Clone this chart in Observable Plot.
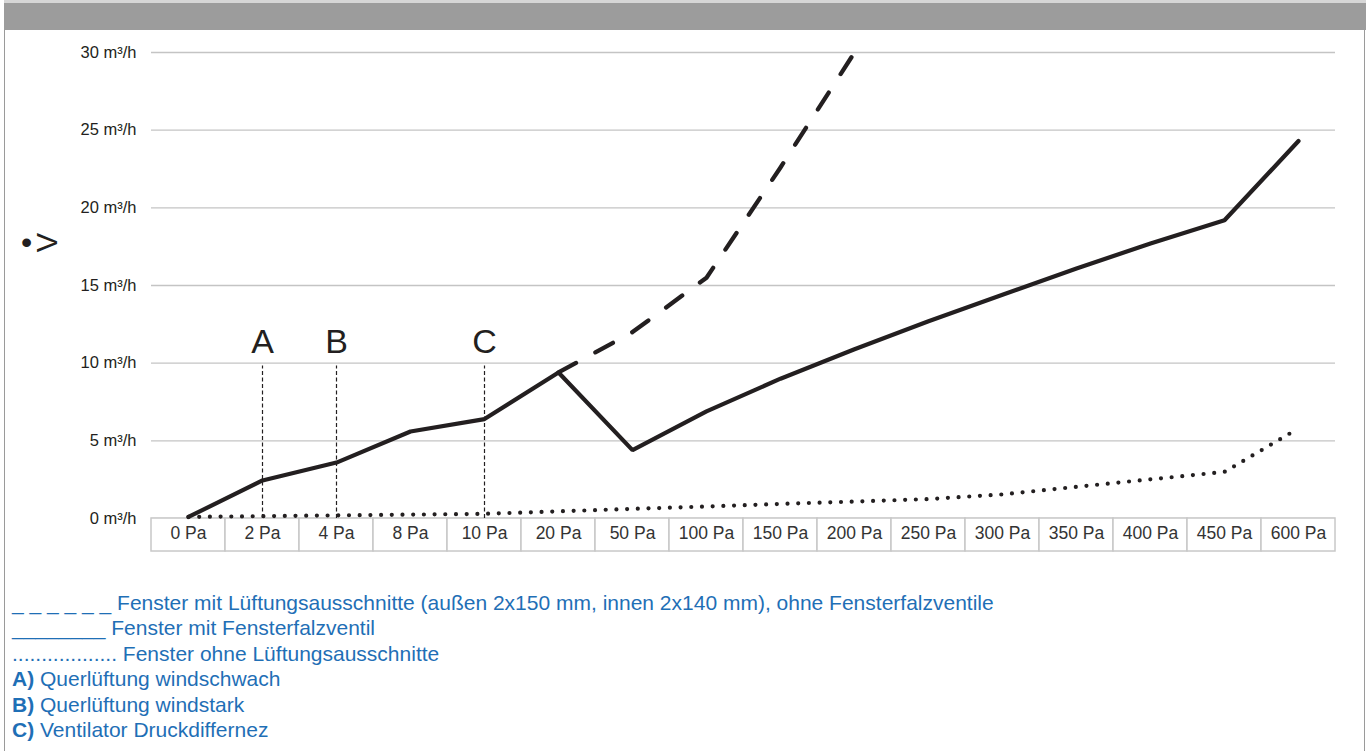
<!DOCTYPE html>
<html>
<head>
<meta charset="utf-8">
<script src="https://cdn.jsdelivr.net/npm/d3@7"></script>
<script src="https://cdn.jsdelivr.net/npm/@observablehq/plot@0.6"></script>
<style>
  html, body { margin: 0; padding: 0; background: #fff; }
  body { width: 1368px; height: 751px; position: relative; overflow: hidden; font-family: "Liberation Sans", Arial, sans-serif; }
  #topbar { position: absolute; left: 4px; top: 0; width: 1362px; height: 27px; background: #9c9c9c; border-top: 3px solid #d6d6d6; }
  #frame { position: absolute; left: 4px; top: 30px; width: 1359px; height: 721px; border-left: 1.5px solid #9a9a9a; border-right: 1.5px solid #9a9a9a; }
  #chart { position: absolute; left: 0; top: 30px; }
  #legend { position: absolute; left: 12px; top: 590px; font-size: 21px; line-height: 25.4px; color: #1f6fb6; white-space: pre; }
  #legend b { font-weight: bold; }
</style>
</head>
<body>
<div id="topbar"></div>
<div id="frame"></div>
<div id="chart"></div>
<div id="legend"></div>
<script>
// Categories (x axis)
const pressures = ["0 Pa","2 Pa","4 Pa","8 Pa","10 Pa","20 Pa","50 Pa","100 Pa","150 Pa","200 Pa","250 Pa","300 Pa","350 Pa","400 Pa","450 Pa","600 Pa"];
// Series values (m³/h)
const mitLueftungsausschnitten = [null, null, null, null, null, 9.4, 12.0, 15.5, 22.6, 30, null, null, null, null, null, null];
const mitFensterfalzventil     = [0.1, 2.45, 3.6, 5.6, 6.4, 9.4, 4.4, 6.9, 9.0, 10.9, 12.7, 14.4, 16.1, 17.7, 19.2, 24.3];
const ohneLueftungsausschnitte = [0.1, 0.15, 0.2, 0.25, 0.3, 0.46, 0.62, 0.77, 0.94, 1.09, 1.25, 1.55, 2.04, 2.52, 3.0, 5.8];
// Y tick values
const yTicks = [0, 5, 10, 15, 20, 25, 30];
// Reference markers
const markerLabels = ["A", "B", "C"];
const markerPressures = ["2 Pa", "4 Pa", "10 Pa"];
const markerHeight = 10.2;
// Legend texts
const legendLines = [
  ["", "_ _ _ _ _ _ Fenster mit Lüftungsausschnitte (außen 2x150 mm, innen 2x140 mm), ohne Fensterfalzventile"],
  ["", "________ Fenster mit Fensterfalzventil"],
  ["", ".................. Fenster ohne Lüftungsausschnitte"],
  ["A)", " Querlüftung windschwach"],
  ["B)", " Querlüftung windstark"],
  ["C)", " Ventilator Druckdiffernez"]
];

const toRows = (vals) => pressures.map((p, i) => ({pressure: p, value: vals[i]}));
const dashedRows = toRows(mitLueftungsausschnitten);
const solidRows = toRows(mitFensterfalzventil);
const dottedRows = toRows(ohneLueftungsausschnitte);
const markers = markerLabels.map((l, i) => ({label: l, pressure: markerPressures[i], top: markerHeight}));

const ink = "#231f20";

const chart = Plot.plot({
  width: 1368,
  height: 528,
  marginLeft: 151,
  marginRight: 33,
  marginTop: 22,
  marginBottom: 40,
  style: {fontFamily: "Liberation Sans, Arial, sans-serif", fontSize: "17px", color: ink, background: "transparent", overflow: "visible"},
  x: {type: "band", domain: pressures, padding: 0},
  y: {domain: [0, 30], label: null},
  marks: [
    Plot.gridY(yTicks, {stroke: "#c4c4c4", strokeOpacity: 1, strokeWidth: 1.3}),
    // table cells under the plot
    Plot.barY(pressures, {x: d => d, y1: 0, y2: 0, insetBottom: -33, fill: "white", stroke: "#c8c8c8", strokeWidth: 1.5}),
    Plot.axisX({tickSize: 0, tickPadding: 8, fontSize: 17.5, label: null, fill: "#333"}),
    Plot.axisY(yTicks, {tickSize: 0, tickPadding: 15, tickFormat: d => `${d} m³/h`, label: null, fontSize: 16.5}),
    // marker rules and labels
    Plot.ruleX(markers, {x: "pressure", y1: 0, y2: "top", stroke: ink, strokeWidth: 1.2, strokeDasharray: "4,2.5", insetBottom: -6}),
    Plot.text(markers, {x: "pressure", y: "top", text: "label", lineAnchor: "bottom", dy: -7, fontSize: 34, fill: ink}),
    // series
    Plot.line(dottedRows, {x: "pressure", y: "value", stroke: ink, strokeWidth: 4.2, strokeDasharray: "0,10.7", strokeLinecap: "round"}),
    Plot.line(dashedRows, {x: "pressure", y: "value", stroke: ink, strokeWidth: 4.3, strokeDasharray: "20,22", strokeLinecap: "round"}),
    Plot.line(solidRows, {x: "pressure", y: "value", stroke: ink, strokeWidth: 4.2, strokeLinejoin: "miter", strokeLinecap: "round"}),
    // y axis symbol (V with dot, rotated)
    Plot.text(["V"], {frameAnchor: "left", dx: -104, dy: -43, rotate: -90, textAnchor: "middle", lineAnchor: "middle", fontSize: 29, fill: ink}),
    Plot.text(["\u2022"], {frameAnchor: "left", dx: -125, dy: -43, textAnchor: "middle", lineAnchor: "middle", fontSize: 32, fill: ink})
  ]
});
document.getElementById("chart").appendChild(chart);

const legend = document.getElementById("legend");
legendLines.forEach(([bold, rest]) => {
  const div = document.createElement("div");
  if (bold) {
    const b = document.createElement("b");
    b.textContent = bold;
    div.appendChild(b);
  }
  div.appendChild(document.createTextNode(rest));
  legend.appendChild(div);
});
</script>
</body>
</html>
